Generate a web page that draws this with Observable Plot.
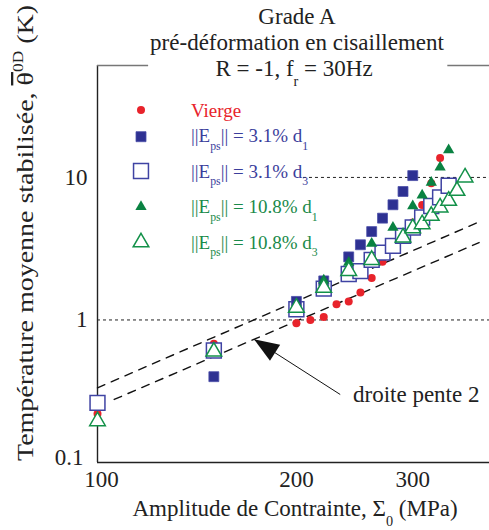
<!DOCTYPE html>
<html><head><meta charset="utf-8">
<script src="https://cdn.jsdelivr.net/npm/d3@7"></script>
<script src="https://cdn.jsdelivr.net/npm/@observablehq/plot@0.6"></script>
<style>html,body{margin:0;padding:0;background:#fff}svg{display:block}</style>
</head><body><div id="chart"></div>
<script>
// ---- data ----
const sigmaVierge = [100,150,200,210,220,230,240,250,260,270,300,310,320,330];
const thetaVierge = [0.22,0.68,0.95,1.0,1.05,1.29,1.35,1.56,1.97,2.56,4.83,6.4,9.1,13.7];
const sigmaBlueD1 = [150,200,220,240,250,260,270,280,290,300];
const thetaBlueD1 = [0.40,1.35,1.88,2.77,3.37,4.17,5.18,6.43,7.97,10.3];
const sigmaBlueD3 = [100,150,200,220,240,250,260,270,280,290,300,310,320,330,340];
const thetaBlueD3 = [0.262,0.61,1.19,1.66,2.1,2.2,2.64,2.97,3.31,3.89,4.45,5.24,6.3,7.24,8.75];
const sigmaGreenD1 = [220,240,260,280,300,310,320,330,340];
const thetaGreenD1 = [1.9,2.53,3.44,4.45,6.3,7.5,9.2,11.8,15.6];
const sigmaGreenD3 = [100,150,200,220,240,260,290,300,310,320,330,340,350,360];
const thetaGreenD3 = [0.195,0.6,1.22,1.68,2.21,2.64,3.79,4.4,4.7,5.38,6.16,6.86,8.06,10.0];

// slope-2 reference lines (end points)
const slopeLineUpperX = [100, 378];
const slopeLineUpperY = [0.334, 4.88];
const slopeLineLowerX = [106, 378];
const slopeLineLowerY = [0.277, 3.49];

// annotation arrow (tail -> tip)
const arrowTailX = 233, arrowTailY = 0.30;
const arrowTipX = 172.5, arrowTipY = 0.732;

const xTicks = [100, 200, 300];
const yTicks = [0.1, 1, 10];
const xDomain = [100, 392];
const yDomain = [0.1, 61];

const legendLabels = ["Vierge", "3.1%", "3.1%", "10.8%", "10.8%"];

// ---- helpers ----
const pts = (xs, ys) => xs.map((x, i) => ({x, y: ys[i]}));
const RED = "#e8232b", BLUE = "#2e3192", BLUE_OPEN = "#3f43a3", GREEN = "#0a8242", GREEN_OPEN = "#139149";
const FONT = "'Liberation Serif', 'Times New Roman', serif";

const arrowHead = {
  draw(ctx) { ctx.moveTo(0, 0); ctx.lineTo(9.5, 25); ctx.lineTo(-9.5, 25); ctx.closePath(); }
};

const plot = Plot.plot({
  width: 489, height: 530,
  marginLeft: 97, marginRight: 0, marginTop: 65, marginBottom: 68,
  style: {fontFamily: FONT, fontSize: "23px", color: "#222", background: "#fff"},
  x: {type: "log", domain: xDomain},
  y: {type: "log", domain: yDomain},
  marks: [
    Plot.axisX(xTicks.slice(1), {tickFormat: d => String(d), tickSize: 0, tickPadding: 8, fontSize: 23, label: null}),
    Plot.axisX(xTicks.slice(0, 1), {tickFormat: d => String(d), tickSize: 0, tickPadding: 8, dx: 4, fontSize: 23, label: null}),
    Plot.axisY(yTicks.slice(1), {tickFormat: d => String(d), tickSize: 0, tickPadding: 10, fontSize: 23, label: null}),
    Plot.axisY(yTicks.slice(0, 1), {tickFormat: d => String(d), tickSize: 0, tickPadding: 14, dy: -5, fontSize: 23, label: null}),
    // dotted grid-like references
    Plot.ruleY([1], {stroke: "#222", strokeWidth: 1, strokeDasharray: "3,3"}),
    Plot.ruleY([10], {x1: 205, x2: xDomain[1], stroke: "#222", strokeWidth: 1, strokeDasharray: "3,3"}),
    // frame
    Plot.ruleX([xDomain[0]], {stroke: "#222", strokeWidth: 1.4}),
    Plot.ruleY([yDomain[0]], {stroke: "#222", strokeWidth: 1.4}),
    Plot.ruleY([yDomain[1]], {x1: 100, x2: 119.5, stroke: "#777", strokeWidth: 1.6}),
    Plot.ruleY([yDomain[1]], {x1: 339, x2: xDomain[1], stroke: "#777", strokeWidth: 1.6}),
    // slope 2 lines
    Plot.line(pts(slopeLineUpperX, slopeLineUpperY), {x: "x", y: "y", stroke: "#111", strokeWidth: 1.4, strokeDasharray: "8,7"}),
    Plot.line(pts(slopeLineLowerX, slopeLineLowerY), {x: "x", y: "y", stroke: "#111", strokeWidth: 1.4, strokeDasharray: "8,7"}),
    // arrow
    Plot.link([{x1: arrowTailX, y1: arrowTailY, x2: arrowTipX, y2: arrowTipY}], {x1: "x1", y1: "y1", x2: "x2", y2: "y2", stroke: "#111", strokeWidth: 1}),
    Plot.dot([{x: arrowTipX, y: arrowTipY}], {x: "x", y: "y", symbol: arrowHead, r: 5, fill: "#111", stroke: "none", rotate: -57.6}),
    // data
    Plot.dot(pts(sigmaVierge, thetaVierge), {x: "x", y: "y", symbol: "circle", r: 4, fill: RED, stroke: "none"}),
    Plot.dot(pts(sigmaBlueD3, thetaBlueD3), {x: "x", y: "y", symbol: "square", r: 8.4, fill: "white", stroke: BLUE_OPEN, strokeWidth: 1.5}),
    Plot.dot(pts(sigmaBlueD1, thetaBlueD1), {x: "x", y: "y", symbol: "square", r: 5.6, fill: BLUE, stroke: "#4a4ea8", strokeWidth: 0.8}),
    Plot.dot(pts(sigmaGreenD1, thetaGreenD1), {x: "x", y: "y", symbol: "triangle", r: 4.2, fill: GREEN, stroke: "none"}),
    Plot.dot(pts(sigmaGreenD3, thetaGreenD3), {x: "x", y: "y", symbol: "triangle", r: 5.8, fill: "white", stroke: GREEN_OPEN, strokeWidth: 1.5})
  ]
});

document.getElementById("chart").appendChild(plot);

// ---- rich text (titles, axis labels, legend) ----
const svg = d3.select(plot);
const g = svg.append("g").attr("font-family", FONT);

function rich(x, y, parts, {size = 23, fill = "#222", anchor = "start", rotate = 0, textLength = null} = {}) {
  const t = g.append("text")
    .attr("x", 0).attr("y", 0)
    .attr("transform", `translate(${x},${y}) rotate(${rotate})`)
    .attr("font-size", size).attr("fill", fill).attr("text-anchor", anchor);
  let shift = 0;
  for (const p of parts) {
    const s = t.append("tspan").text(p.t);
    const target = p.sub ? size * 0.42 : p.sup ? -size * 0.42 : 0;
    const dy = target - shift;
    if (dy) s.attr("dy", dy);
    shift = target;
    if (p.sub || p.sup) s.attr("font-size", size * 0.62);
    if (p.over) s.style("text-decoration", "overline");
  }
  if (textLength) t.attr("textLength", textLength).attr("lengthAdjust", "spacingAndGlyphs");
  return t;
}

// title
rich(297, 24, [{t: "Grade A"}], {anchor: "middle"});
rich(297, 50, [{t: "pré-déformation en cisaillement"}], {anchor: "middle"});
rich(294, 76, [{t: "R = -1, f"}, {t: "r", sub: true}, {t: " = 30Hz"}], {anchor: "middle"});

// x label
rich(295, 516, [{t: "Amplitude de Contrainte, Σ"}, {t: "0", sub: true}, {t: " (MPa)"}], {anchor: "middle"});
// y label
rich(33, 233, [{t: "Température moyenne stabilisée, "}, {t: "θ", over: true}, {t: "0D", sup: true}, {t: " (K)"}], {anchor: "middle", rotate: -90, textLength: 456});

// annotation text
rich(353, 402, [{t: "droite pente 2"}]);

// legend
const lx = 141, tx = 191, ls = 19;
const legendRows = [
  {y: 110, base: 117, color: RED, sym: d3.symbolCircle, size: Math.PI * 16, fill: RED, stroke: "none", parts: [{t: legendLabels[0]}]},
  {y: 136.7, base: 142, color: BLUE, sym: d3.symbolSquare, size: 100, fill: BLUE, stroke: "#4a4ea8", sw: 0.8, parts: [{t: "||E"}, {t: "ps", sub: true}, {t: "|| = " + legendLabels[1] + " d"}, {t: "1", sub: true}]},
  {y: 171, base: 177.5, color: BLUE, sym: d3.symbolSquare, size: 222, fill: "white", stroke: BLUE_OPEN, sw: 1.5, parts: [{t: "||E"}, {t: "ps", sub: true}, {t: "|| = " + legendLabels[2] + " d"}, {t: "3", sub: true}]},
  {y: 206.7, base: 213, color: GREEN, sym: d3.symbolTriangle, size: 55, fill: GREEN, stroke: "none", parts: [{t: "||E"}, {t: "ps", sub: true}, {t: "|| = " + legendLabels[3] + " d"}, {t: "1", sub: true}]},
  {y: 242.3, base: 248.5, color: GREEN, sym: d3.symbolTriangle, size: 106, fill: "white", stroke: GREEN_OPEN, sw: 1.5, parts: [{t: "||E"}, {t: "ps", sub: true}, {t: "|| = " + legendLabels[4] + " d"}, {t: "3", sub: true}]}
];
const legendTextColor = {[RED]: "#e8232b", [BLUE]: "#3b3e9c", [GREEN]: "#1a8a4a"};
for (const r of legendRows) {
  g.append("path").attr("d", d3.symbol(r.sym, r.size)()).attr("transform", `translate(${lx},${r.y})`)
    .attr("fill", r.fill).attr("stroke", r.stroke).attr("stroke-width", r.sw || 0);
  rich(tx, r.base, r.parts, {size: ls, fill: legendTextColor[r.color]});
}
</script>
</body></html>
